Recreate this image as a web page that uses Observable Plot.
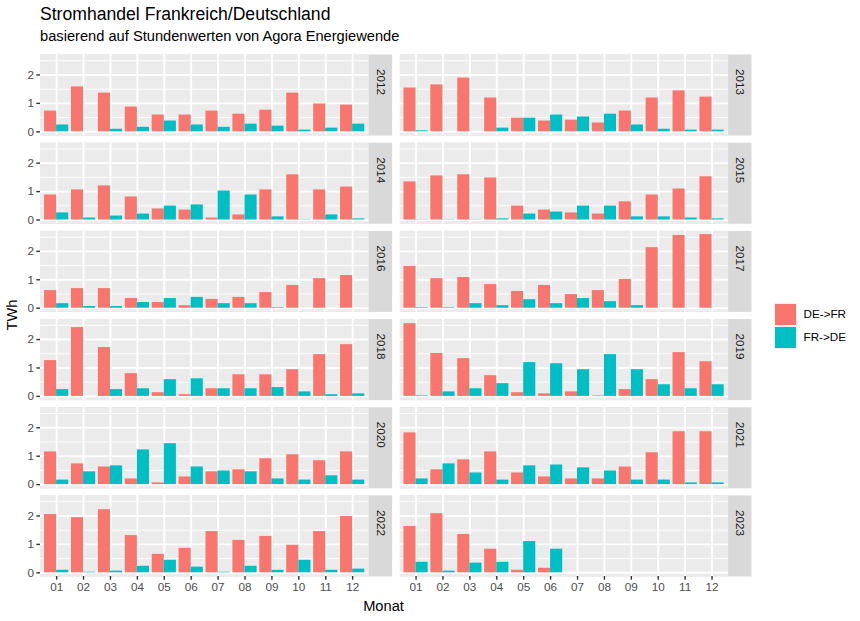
<!DOCTYPE html>
<html><head><meta charset="utf-8">
<script src="https://cdn.jsdelivr.net/npm/d3@7"></script>
<script src="https://cdn.jsdelivr.net/npm/@observablehq/plot@0.6"></script>
<style>
body{margin:0;background:#fff;}
#fig{position:relative;width:860px;height:621px;font-family:"Liberation Sans",Arial,sans-serif;overflow:hidden;background:#fff;}
#fig svg{position:absolute;left:0;top:0;}
.t{position:absolute;white-space:nowrap;line-height:1;color:#000;}
.key{position:absolute;width:23px;height:23px;background:#F2F2F2;}
.key span{position:absolute;left:1px;top:1px;width:21px;height:21px;}
</style></head><body>
<div id="fig">
  <div class="t" style="left:40px;top:6px;font-size:17.6px;">Stromhandel Frankreich/Deutschland</div>
  <div class="t" style="left:40px;top:29px;font-size:14.67px;">basierend auf Stundenwerten von Agora Energiewende</div>
  <div class="t" style="left:383.5px;top:599px;font-size:14.67px;transform:translateX(-50%);">Monat</div>
  <div class="t" style="left:12px;top:315px;font-size:14.67px;transform:translate(-50%,-50%) rotate(-90deg);">TWh</div>
  <div id="legend"></div>
</div>
<script>
const years = [2012,2013,2014,2015,2016,2017,2018,2019,2020,2021,2022,2023];
const months = [1,2,3,4,5,6,7,8,9,10,11,12];
const monthLabels = ["01","02","03","04","05","06","07","08","09","10","11","12"];
const yTicks = [0,1,2];
const yMinorTicks = [0.5,1.5,2.5];
const seriesNames = ["DE->FR","FR->DE"];
const seriesColors = ["#F8766D","#00BFC4"];

const de2012 = [0.73,1.58,1.36,0.87,0.59,0.59,0.73,0.62,0.76,1.36,0.98,0.94];
const fr2012 = [0.24,0,0.09,0.16,0.38,0.24,0.16,0.27,0.20,0.06,0.13,0.27];
const de2013 = [1.54,1.65,1.89,1.19,0.48,0.38,0.41,0.31,0.73,1.19,1.44,1.22];
const fr2013 = [0.035,0,0,0.13,0.48,0.59,0.52,0.62,0.24,0.09,0.06,0.06];
const de2014 = [0.88,1.06,1.20,0.81,0.39,0.35,0.07,0.18,1.06,1.59,1.06,1.16];
const fr2014 = [0.25,0.07,0.14,0.21,0.49,0.53,1.02,0.88,0.11,0.01,0.18,0.04];
const de2015 = [1.34,1.55,1.59,1.48,0.49,0.35,0.25,0.21,0.64,0.88,1.09,1.52];
const fr2015 = [0.01,0.01,0.01,0.04,0.21,0.28,0.49,0.49,0.11,0.11,0.07,0.04];
const de2016 = [0.62,0.69,0.69,0.34,0.20,0.09,0.31,0.38,0.55,0.80,1.04,1.15];
const fr2016 = [0.16,0.06,0.06,0.20,0.34,0.38,0.16,0.16,0.02,0,0,0];
const de2017 = [1.47,1.04,1.08,0.83,0.59,0.80,0.48,0.62,1.01,2.13,2.56,2.59];
const fr2017 = [0.02,0.02,0.16,0.09,0.30,0.16,0.34,0.23,0.09,0,0,0];
const de2018 = [1.26,2.42,1.72,0.80,0.13,0.06,0.27,0.76,0.76,0.94,1.47,1.82];
const fr2018 = [0.24,0,0.24,0.27,0.59,0.62,0.27,0.27,0.31,0.16,0.06,0.09];
const de2019 = [2.56,1.51,1.33,0.73,0.13,0.09,0.16,0.02,0.24,0.59,1.54,1.22];
const fr2019 = [0.02,0.16,0.27,0.45,1.19,1.15,0.94,1.47,0.94,0.41,0.27,0.41];
const de2020 = [1.15,0.73,0.62,0.20,0.06,0.27,0.45,0.52,0.91,1.05,0.84,1.15];
const fr2020 = [0.16,0.45,0.66,1.22,1.44,0.62,0.48,0.45,0.20,0.16,0.31,0.16];
const de2021 = [1.82,0.52,0.87,1.15,0.41,0.27,0.20,0.20,0.62,1.12,1.86,1.86];
const fr2021 = [0.20,0.73,0.41,0.16,0.66,0.69,0.59,0.48,0.16,0.16,0.06,0.06];
const de2022 = [2.05,1.94,2.22,1.31,0.65,0.86,1.45,1.14,1.28,0.97,1.45,1.98];
const fr2022 = [0.09,0.02,0.06,0.23,0.44,0.20,0.02,0.23,0.09,0.44,0.09,0.13];
const de2023 = [1.63,2.08,1.35,0.83,0.09,0.16];
const fr2023 = [0.37,0.06,0.34,0.37,1.10,0.83];

const deSeries = [de2012,de2013,de2014,de2015,de2016,de2017,de2018,de2019,de2020,de2021,de2022,de2023];
const frSeries = [fr2012,fr2013,fr2014,fr2015,fr2016,fr2017,fr2018,fr2019,fr2020,fr2021,fr2022,fr2023];

// build table
const rows = [];
const strips = [];
years.forEach((yr, i) => {
  const col = i % 2, row = Math.floor(i / 2);
  strips.push({year: String(yr), col, row});
  [deSeries[i], frSeries[i]].forEach((arr, s) => {
    arr.forEach((v, m) => rows.push({year: yr, col, row, month: months[m], series: seriesNames[s], s, value: v}));
  });
});

// layout
const W = 860, H = 621;
const mL = 40, mT = 54, mB = 45, panelRightEnd = 727.7, mR = W - panelRightEnd, stripW = 23.3;
const fxPad = 31.1 / 359.4, fyPad = 7.2 / 88.2;
const dodge = 0.45;
const vmax = d3.max(rows, d => d.value), vmin = 0;
const ex = (vmax - vmin) * 0.05;

const chart = Plot.plot({
  width: W, height: H,
  marginTop: mT, marginBottom: mB, marginLeft: mL, marginRight: mR,
  style: {fontFamily: "Liberation Sans, Arial, sans-serif", fontSize: "11.7px", background: "transparent", overflow: "visible"},
  fx: {domain: [0, 1], paddingInner: fxPad, paddingOuter: 0, axis: null, round: false},
  fy: {domain: [0, 1, 2, 3, 4, 5], paddingInner: fyPad, paddingOuter: 0, axis: null, round: false},
  x: {domain: [0.4, 12.6]},
  y: {domain: [vmin - ex, vmax + ex]},
  color: {domain: seriesNames, range: seriesColors},
  marks: [
    Plot.frame({fill: "#D9D9D9", stroke: "none", insetRight: -stripW}),
    Plot.frame({fill: "#EBEBEB", stroke: "none"}),
    Plot.gridY({ticks: yMinorTicks, stroke: "white", strokeOpacity: 1, strokeWidth: 0.95}),
    Plot.gridX({ticks: months, stroke: "white", strokeOpacity: 1, strokeWidth: 1.9}),
    Plot.gridY({ticks: yTicks, stroke: "white", strokeOpacity: 1, strokeWidth: 1.9}),
    Plot.rect(rows, {
      fx: "col", fy: "row",
      x1: d => d.s === 0 ? d.month - dodge : d.month,
      x2: d => d.s === 0 ? d.month : d.month + dodge,
      y1: 0, y2: "value", fill: "series"
    }),
    Plot.text(strips, {fx: "col", fy: "row", text: "year", frameAnchor: "right", dx: stripW / 2, rotate: 90, fontSize: 11.7, fill: "#1A1A1A"}),
    Plot.axisY({ticks: yTicks, tickFormat: d => String(d), facetAnchor: "left", tickSize: 3.67, tickPadding: 2.93, stroke: "#333333", strokeWidth: 1.4, fill: "#4D4D4D", fontSize: 11.7, label: null}),
    Plot.axisX({ticks: months, facetAnchor: "bottom", tickSize: 3.67, tickPadding: 2.93, tickFormat: d => monthLabels[d - 1], stroke: "#333333", strokeWidth: 1.4, fill: "#4D4D4D", fontSize: 11.7, label: null})
  ]
});
document.getElementById("fig").appendChild(chart);

// legend
const lg = document.getElementById("legend");
seriesNames.forEach((name, i) => {
  const k = document.createElement("div");
  k.className = "key";
  k.style.left = "774px";
  k.style.top = (302.5 + 23 * i) + "px";
  const sp = document.createElement("span");
  sp.style.background = seriesColors[i];
  k.appendChild(sp);
  lg.appendChild(k);
  const t = document.createElement("div");
  t.className = "t";
  t.style.left = "803.5px";
  t.style.top = (302.5 + 23 * i + 11.5) + "px";
  t.style.transform = "translateY(-50%)";
  t.style.fontSize = "11.7px";
  t.textContent = name;
  lg.appendChild(t);
});
</script>
</body></html>
